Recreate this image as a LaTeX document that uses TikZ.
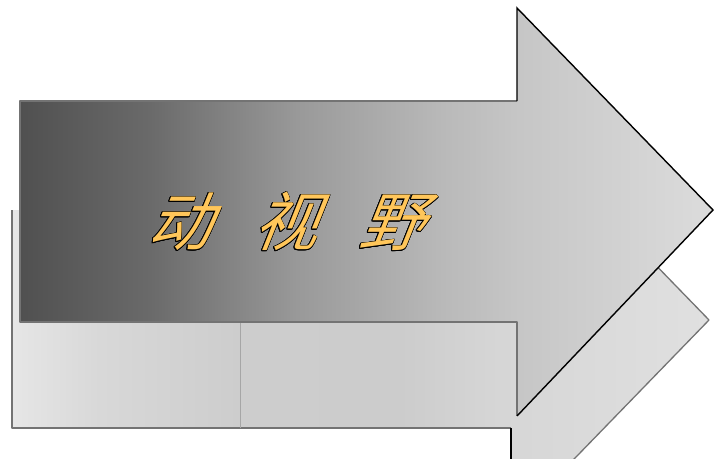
\documentclass[tikz,border=0pt]{standalone}
\usepackage{fontspec}
\usepackage{contour}
\newfontfamily\cjk[FakeSlant=0.4]{Noto Sans CJK SC}
\contourlength{0.8pt}
\definecolor{gold}{HTML}{FFC65A}
\definecolor{fa}{HTML}{505050}
\definecolor{fb}{HTML}{6A6A6A}
\definecolor{fc}{HTML}{999999}
\definecolor{fd}{HTML}{B9B9B9}
\definecolor{fe}{HTML}{C6C6C6}
\definecolor{ff}{HTML}{DCDCDC}
\definecolor{ba}{HTML}{E6E6E6}
\definecolor{bb}{HTML}{D8D8D8}
\definecolor{bc}{HTML}{CDCDCD}
\definecolor{bd}{HTML}{CCCCCC}
\definecolor{be}{HTML}{D6D6D6}
\definecolor{bf}{HTML}{E0E0E0}
\pgfdeclarehorizontalshading{frontgrad}{100bp}{color(0bp)=(fa); color(25bp)=(fa); color(34.4bp)=(fb); color(45bp)=(fc); color(55.5bp)=(fd); color(61bp)=(fe); color(75bp)=(ff); color(100bp)=(ff)}
\pgfdeclarehorizontalshading{backgrad}{100bp}{color(0bp)=(ba); color(25bp)=(ba); color(31.3bp)=(bb); color(41.3bp)=(bc); color(52.8bp)=(bd); color(60bp)=(be); color(75bp)=(bf); color(100bp)=(bf)}
\tikzset{
  edgegray/.style={draw=black!55, line width=1.3pt, line join=round},
  edgeblack/.style={draw=black, line width=1.4pt, line join=miter},
  title/.style={font=\cjk\fontsize{64}{68}\selectfont, text=gold, inner sep=0pt}
}
\begin{document}
\begin{tikzpicture}[x=1pt,y=-1pt]
\useasboundingbox (0,0) rectangle (714,458);
\fill[white] (0,0) rectangle (714,458);
% back (reflected) arrow
\shade[shading=backgrad] (12,210) -- (511,210) -- (511,116) -- (709,320) -- (511,524) -- (511,428) -- (12,428) -- cycle;
\draw[edgegray] (12,210) -- (12,428) -- (511,428);
\draw[edgegray] (511,116) -- (709,320) -- (511,524);
\draw[edgeblack] (511,428) -- (511,470);
\draw[draw=black!35, line width=1pt] (240,322) -- (240,428);
% front arrow
\shade[shading=frontgrad] (20,101) -- (517,101) -- (517,8) -- (713,210) -- (518,416) -- (517,322) -- (20,322) -- cycle;
\draw[edgegray] (517,101) -- (20,101) -- (20,322) -- (517,322) -- (517,416);
\draw[edgeblack] (517,101) -- (517,8) -- (713,210) -- (517,416);
% title
\node[title] (t) at (284,222) {\contour{black}{动}\hspace{42pt}\contour{black}{视}\hspace{42pt}\contour{black}{野}};
\end{tikzpicture}
\end{document}
